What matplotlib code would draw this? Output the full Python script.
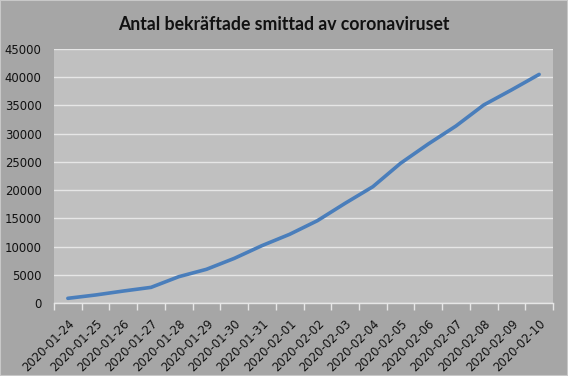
import matplotlib
matplotlib.use("Agg")
import matplotlib.pyplot as plt
from matplotlib.patches import Rectangle

dates = ["2020-01-24", "2020-01-25", "2020-01-26", "2020-01-27", "2020-01-28",
         "2020-01-29", "2020-01-30", "2020-01-31", "2020-02-01", "2020-02-02",
         "2020-02-03", "2020-02-04", "2020-02-05", "2020-02-06", "2020-02-07",
         "2020-02-08", "2020-02-09", "2020-02-10"]
cases = [830, 1420, 2120, 2770, 4660, 5970, 7900, 10160, 12170, 14580,
         17660, 20600, 24750, 28170, 31360, 35080, 37740, 40500]
yticks = [0, 5000, 10000, 15000, 20000, 25000, 30000, 35000, 40000, 45000]
title = "Antal bekräftade smittad av coronaviruset"

fig = plt.figure(figsize=(5.68, 3.76), dpi=100)
fig.patch.set_facecolor("#a6a6a6")
ax = fig.add_axes([54/568, 1-303/376, 499/568, 254/376])
ax.set_facecolor("#c0c0c0")

x = list(range(len(dates)))
ax.plot(x, cases, color="#4a7ebb", linewidth=2.6, solid_capstyle="round")

ax.set_xlim(-0.5, len(dates) - 0.5)
ax.set_ylim(0, 45000)
ax.set_yticks(yticks)
ax.set_yticklabels([str(v) for v in yticks], fontsize=8.4, fontfamily="DejaVu Sans")
ax.yaxis.grid(True, color="#e6e6e6", linewidth=1)
ax.set_axisbelow(True)
ax.tick_params(axis="y", length=0, pad=9, labelcolor="#111111")

ax.set_xticks([i - 0.5 for i in range(len(dates) + 1)])
ax.set_xticklabels([""] * (len(dates) + 1))
ax.set_xticks(x, minor=True)
ax.set_xticklabels(dates, minor=True, rotation=45, ha="right", va="top",
                   rotation_mode="anchor", fontsize=8.4, fontfamily="DejaVu Sans",
                   color="#111111")
ax.tick_params(axis="x", which="major", length=5, color="#e6e6e6", width=1)
ax.tick_params(axis="x", which="minor", length=0, pad=10)

for s in ["top", "right", "left"]:
    ax.spines[s].set_visible(False)
ax.spines["bottom"].set_color("#e6e6e6")
ax.spines["bottom"].set_linewidth(1)

fig.text(284/568, 1-24/376, title, ha="center", va="center", fontsize=12.7,
         fontweight="bold", fontfamily="Lato", color="#111111")

fig.patches.append(Rectangle((0, 0), 1, 1, transform=fig.transFigure, fill=False,
                             edgecolor="#c8c8c8", linewidth=1.5))

fig.savefig("out.png", dpi=100, facecolor=fig.get_facecolor())
